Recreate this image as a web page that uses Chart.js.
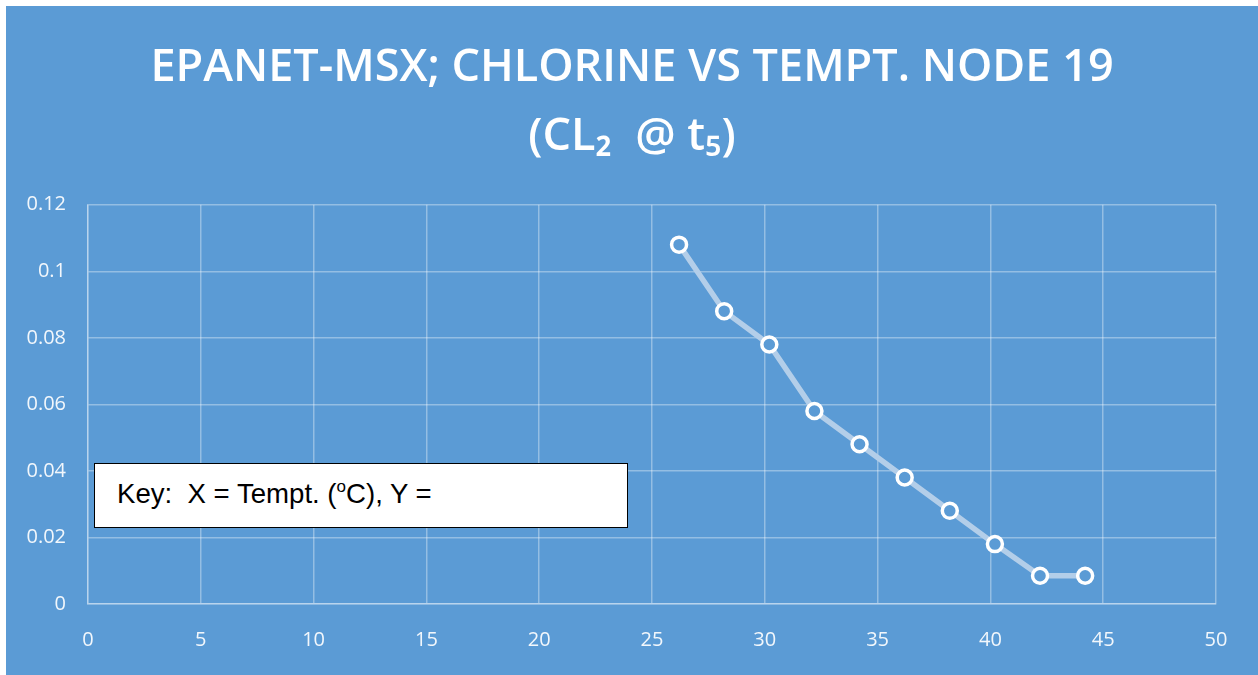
<!DOCTYPE html>
<html>
<head>
<meta charset="utf-8">
<script src="https://cdn.jsdelivr.net/npm/chart.js@4"></script>
<style>
  html, body { margin: 0; padding: 0; background: #ffffff; width: 1258px; height: 675px; overflow: hidden; }
  #wrap { position: absolute; left: 6px; top: 6px; width: 1252px; height: 669px; background: #5b9bd5; }
  #key { position: absolute; left: 94px; top: 463px; width: 532px; height: 63px; background: #ffffff; border: 1px solid #000; box-sizing: content-box;
         font-family: "Liberation Sans", Arial, sans-serif; font-size: 27.6px; color: #000; }
  #key span.t { position: absolute; left: 22px; top: 14px; white-space: pre; }
  #key sup { font-size: 17px; vertical-align: 11px; line-height: 0; }
</style>
</head>
<body>
<div id="wrap"><canvas id="c" width="1252" height="669"></canvas></div>
<div id="key"><span class="t">Key:  X = Tempt. (<sup>o</sup>C), Y =</span></div>
<script>
const titleLines = ['EPANET-MSX; CHLORINE VS TEMPT. NODE 19', '(CL\u2082  @ t\u2085)'];
const tempX = [26.2, 28.2, 30.2, 32.2, 34.2, 36.2, 38.2, 40.2, 42.2, 44.2];
const chlorineY = [0.108, 0.088, 0.078, 0.058, 0.048, 0.038, 0.028, 0.018, 0.0085, 0.0085];
const xTickLabels = ['0', '5', '10', '15', '20', '25', '30', '35', '40', '45', '50'];
const yTickLabels = ['0', '0.02', '0.04', '0.06', '0.08', '0.1', '0.12'];

const points = tempX.map((x, i) => ({ x: x, y: chlorineY[i] }));
const gridColor = 'rgba(255,255,255,0.35)';
const tickColor = 'rgba(255,255,255,0.92)';

new Chart(document.getElementById('c'), {
  type: 'scatter',
  data: {
    datasets: [{
      data: points,
      showLine: true,
      borderColor: '#b3cee9',
      borderWidth: 5.5,
      pointRadius: 7.5,
      pointHoverRadius: 7.5,
      pointBorderWidth: 3.5,
      pointBorderColor: '#ffffff',
      pointBackgroundColor: '#5b9bd5'
    }]
  },
  options: {
    responsive: false,
    animation: false,
    layout: { padding: 0 },
    plugins: {
      legend: { display: false },
      tooltip: { enabled: false },
      title: {
        display: true,
        text: titleLines,
        color: '#ffffff',
        font: { family: '"Open Sans", sans-serif', size: 45, weight: '600', lineHeight: 1.53 },
        padding: { top: 28, bottom: 33 }
      }
    },
    scales: {
      x: {
        type: 'linear',
        min: 0, max: 50,
        ticks: {
          stepSize: 5,
          color: tickColor,
          font: { family: '"Open Sans", sans-serif', size: 20 },
          padding: 24,
          callback: (v, i) => xTickLabels[i]
        },
        grid: { color: gridColor, lineWidth: 1.5, drawTicks: false },
        border: { color: gridColor, width: 1.5 },
        afterFit: (s) => { s.height = 71; }
      },
      y: {
        type: 'linear',
        min: 0, max: 0.12,
        ticks: {
          stepSize: 0.02,
          color: tickColor,
          font: { family: '"Open Sans", sans-serif', size: 20 },
          padding: 22,
          callback: (v, i) => yTickLabels[i]
        },
        grid: { color: gridColor, lineWidth: 1.5, drawTicks: false },
        border: { color: gridColor, width: 1.5 },
        afterFit: (s) => { s.width = 82; }
      },
      yRight: {
        type: 'linear',
        position: 'right',
        min: 0, max: 0.12,
        ticks: { display: false },
        grid: { display: false, drawTicks: false },
        border: { display: false },
        afterFit: (s) => { s.width = 42; }
      }
    }
  }
});
</script>
</body>
</html>
